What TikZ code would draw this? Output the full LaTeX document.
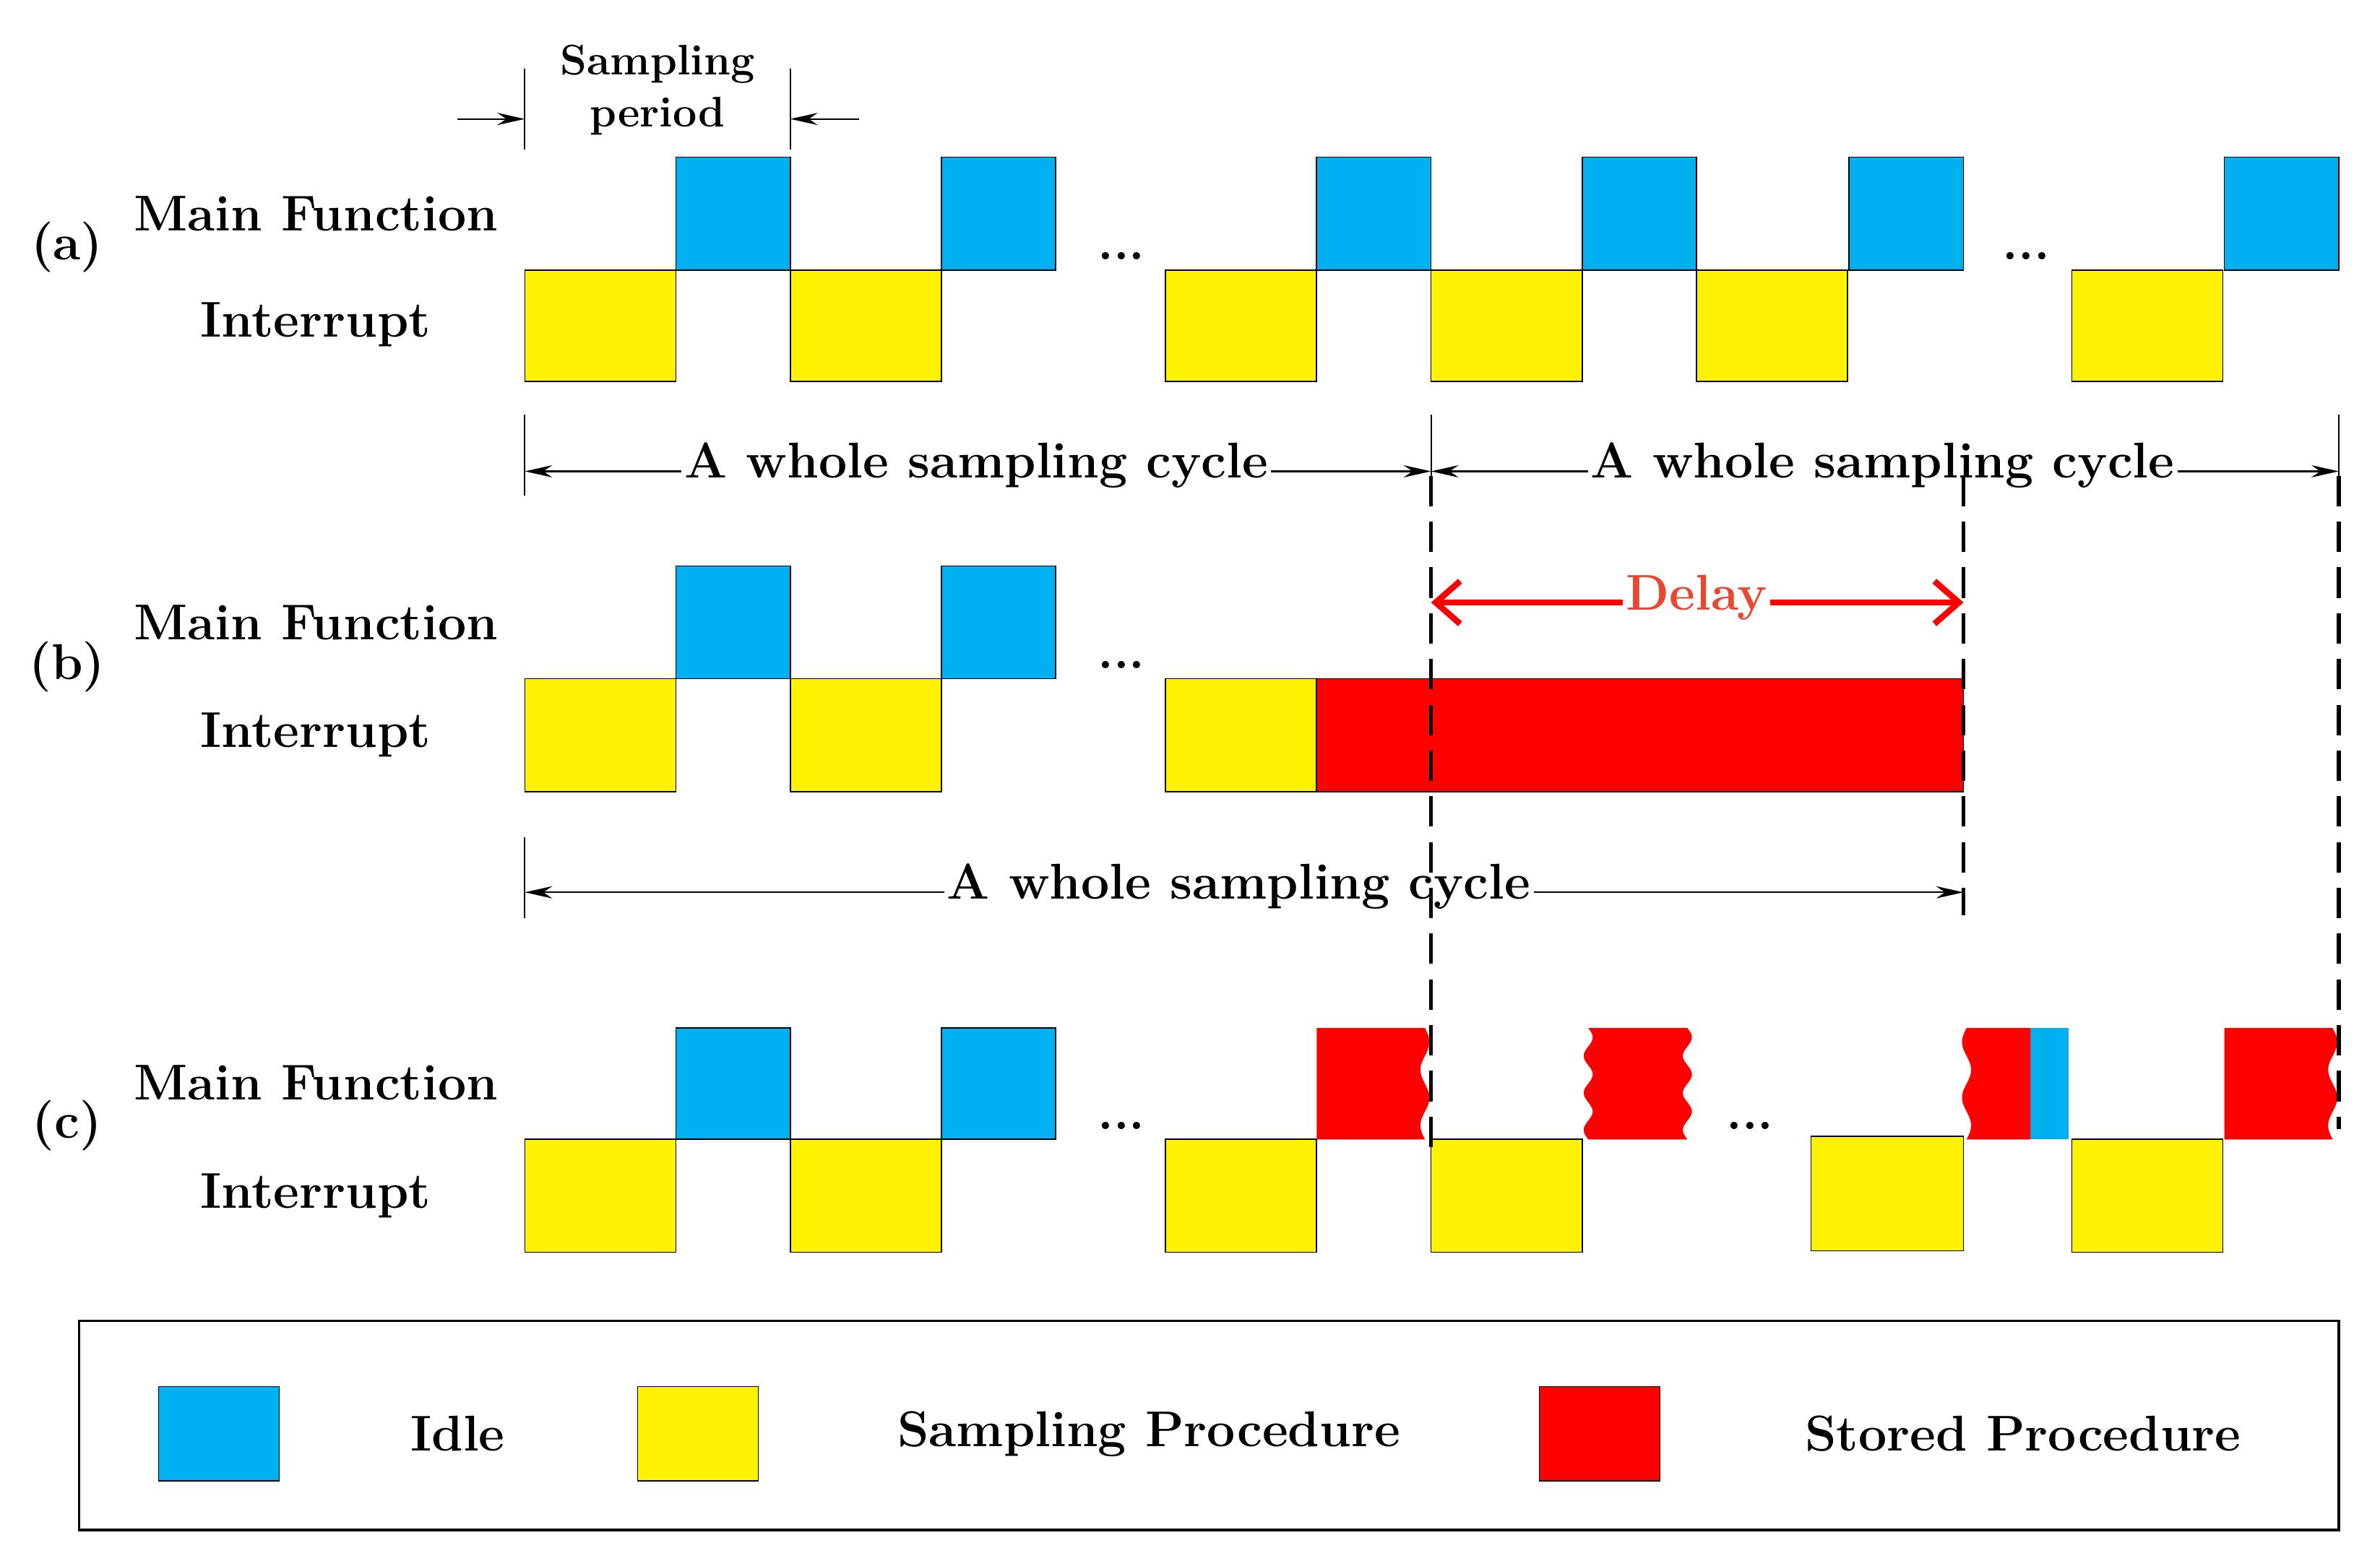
\documentclass[tikz,border=0pt]{standalone}
\usetikzlibrary{arrows.meta}
\begin{document}
\begin{tikzpicture}[x=0.5pt,y=-0.5pt,
  lab/.style={font=\fontsize{16.5}{18}\selectfont\bfseries},
  cyc/.style={font=\fontsize{16.5}{18}\selectfont\bfseries,fill=white,inner sep=1pt},
  yel/.style={fill=yellow,draw=black,line width=0.4pt},
  dim/.style={line width=0.5pt,-{Stealth[length=9pt,width=4pt]}},
  tick/.style={line width=0.5pt},
  dsh/.style={line width=1.2pt,dash pattern=on 10pt off 5pt}]
\definecolor{idleblue}{RGB}{0,176,240}
\tikzset{blu/.style={fill=idleblue,draw=black,line width=0.4pt}}
\useasboundingbox (0,0) rectangle (1560,1020);
% (a)
\foreach \x in {443,617,863,1037,1212,1458}{\path[blu] (\x,103) rectangle ++(75,74);}
\foreach \x in {344,518,764,938,1112,1358}{\path[yel] (\x,177) rectangle ++(99,73);}
\node[lab] (dotsa1) at (735,168) {...};
\node[lab] (dotsa2) at (1328,168) {...};
\node[lab] (la) at (44,162) {(a)};
\node[lab] (ma) at (207,140) {Main Function};
\node[lab] (ia) at (207,213) {Interrupt};
% sampling period
\coordinate (sp1t) at (344,45); \coordinate (sp1b) at (344,98);
\coordinate (sp2t) at (518,45); \coordinate (sp2b) at (518,98);
\draw[tick] (sp1t)--(sp1b); \draw[tick] (sp2t)--(sp2b);
\coordinate (spl) at (300,78); \coordinate (spr) at (563,78);
\draw[dim] (spl)--(344,78); \draw[dim] (spr)--(518,78);
\node[font=\fontsize{14}{17}\selectfont\bfseries,align=center] (sp) at (431,59) {Sampling\\period};
% cycles a
\foreach \x in {344,938,1533}{\draw[tick] (\x,272)--(\x,325);}
\coordinate (c1) at (344,309); \coordinate (c2) at (938,309); \coordinate (c3) at (1533,309);
\draw[dim] (640,309)--(c1); \draw[dim] (640,309)--(c2);
\draw[dim] (1234,309)--(c2); \draw[dim] (1234,309)--(c3);
\node[cyc] (ca1) at (640,305) {A whole sampling cycle};
\node[cyc] (ca2) at (1234,305) {A whole sampling cycle};
% (b)
\foreach \x in {443,617}{\path[blu] (\x,371) rectangle ++(75,74);}
\foreach \x in {344,518,764}{\path[yel] (\x,445) rectangle ++(99,74);}
\path[fill=red,draw=black,line width=0.4pt] (863,445) rectangle (1287,519);
\node[lab] (dotsb) at (735,436) {...};
\node[lab] (lb) at (44,437) {(b)};
\node[lab] (mb) at (207,408) {Main Function};
\node[lab] (ib) at (207,482) {Interrupt};
\coordinate (d1) at (938,395); \coordinate (d2) at (1287,395);
\draw[red,line width=2pt,{Straight Barb[length=8pt,width=14pt]}-{Straight Barb[length=8pt,width=14pt]}] (d1)--(d2);
\node[font=\fontsize{16.5}{18}\selectfont\bfseries,text=red!60!brown!90!white,fill=white,inner sep=1pt] (delay) at (1112,392) {Delay};
\draw[tick] (344,549)--(344,602);
\coordinate (e1) at (344,585); \coordinate (e2) at (1287,585);
\draw[dim] (812,585)--(e1); \draw[dim] (812,585)--(e2);
\node[cyc] (cb) at (812,581) {A whole sampling cycle};
% (c)
\foreach \x in {443,617}{\path[blu] (\x,674) rectangle ++(75,73);}
\foreach \x in {344,518,764,938,1358}{\path[yel] (\x,747) rectangle ++(99,74);}
\path[yel] (1187,745) rectangle (1287,820);
\path[fill=idleblue] (1331,674) rectangle (1356,747);
\fill[red] (863,674) -- plot[domain=0:73,samples=40] ({934+3*sin(\x*9.863)},{674+\x}) -- (863,747) -- cycle;
\fill[red] plot[domain=0:73,samples=40] ({1041+3*sin(\x*14.81)},{674+\x}) -- plot[domain=73:0,samples=40] ({1106+3*sin(\x*14.81)},{674+\x}) -- cycle;
\fill[red] plot[domain=0:73,samples=40] ({1289-3*sin(\x*9.863)},{674+\x}) -- (1331,747) -- (1331,674) -- cycle;
\fill[red] (1458,674) -- plot[domain=0:73,samples=40] ({1529+3*sin(\x*9.863)},{674+\x}) -- (1458,747) -- cycle;
\node[lab] (dotsc1) at (735,738) {...};
\node[lab] (dotsc2) at (1147,738) {...};
\node[lab] (lc) at (44,738) {(c)};
\node[lab] (mc) at (207,710) {Main Function};
\node[lab] (ic) at (207,784) {Interrupt};
% dashed
\draw[dsh] (938,312)--(938,755);
\draw[dsh] (1287,312)--(1287,600);
\draw[dsh] (1533,312)--(1533,740);
% legend
\draw[line width=0.8pt] (52,866) rectangle (1533,1003);
\path[blu] (104,909) rectangle (183,971);
\node[lab] (lidle) at (300,940) {Idle};
\path[yel] (418,909) rectangle (497,971);
\node[lab] (lsamp) at (753,940) {Sampling Procedure};
\path[fill=red,draw=black,line width=0.4pt] (1009,909) rectangle (1088,971);
\node[lab] (lstor) at (1326,940) {Stored Procedure};
\end{tikzpicture}
\end{document}
